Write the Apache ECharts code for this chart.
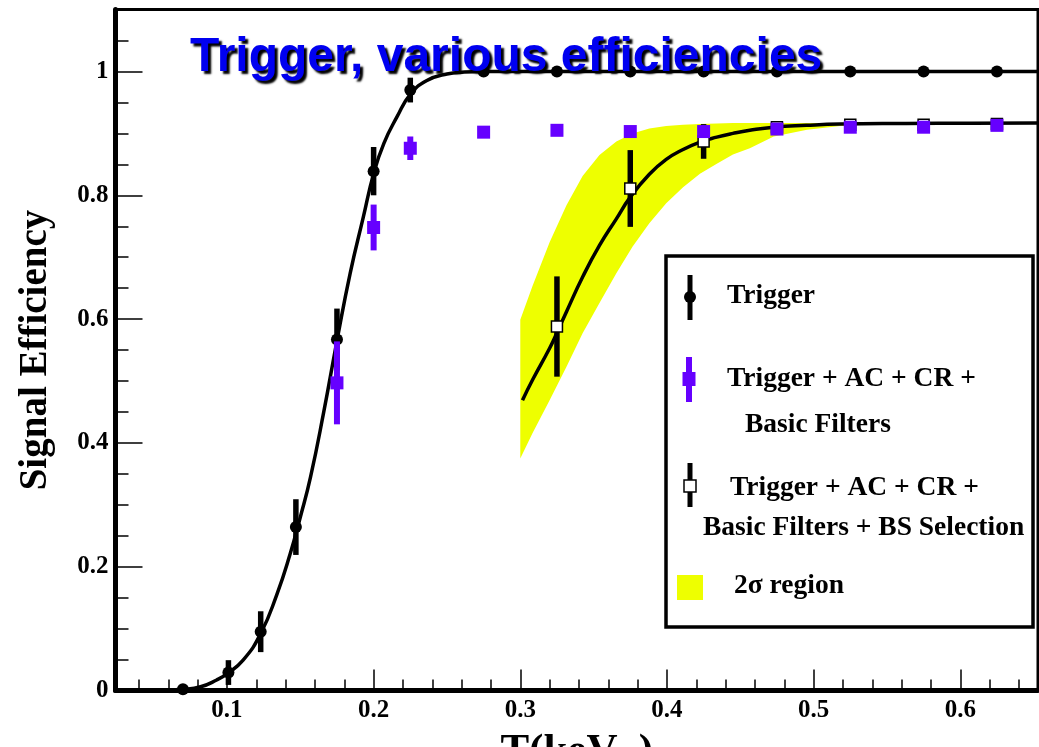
<!DOCTYPE html>
<html><head><meta charset="utf-8">
<script src="https://cdn.jsdelivr.net/npm/echarts@6/dist/echarts.min.js"></script>
<style>html,body{margin:0;padding:0;background:#fff}#c{width:1039px;height:747px}</style>
</head><body><div id="c"></div>
<script>
// ---- tick labels ----
const xTicks = [0.1, 0.2, 0.3, 0.4, 0.5, 0.6];
const yTicks = [0, 0.2, 0.4, 0.6, 0.8, 1];

// ---- Trigger (black circles) ----
const trigX   = [0.07, 0.101, 0.123, 0.147, 0.175, 0.2, 0.225, 0.275, 0.325, 0.375, 0.425, 0.475, 0.525, 0.575, 0.625];
const trigY   = [0.002, 0.029, 0.095, 0.264, 0.567, 0.839, 0.970, 1, 1, 1, 1, 1, 1, 1, 1];
const trigErr = [0, 0.02, 0.033, 0.045, 0.05, 0.039, 0.02, 0, 0, 0, 0, 0, 0, 0, 0];

// ---- Trigger + AC + CR + Basic Filters (purple squares) ----
const purX   = [0.175, 0.2, 0.225, 0.275, 0.325, 0.375, 0.425, 0.475, 0.525, 0.575, 0.625];
const purY   = [0.497, 0.748, 0.876, 0.902, 0.905, 0.903, 0.903, 0.907, 0.910, 0.910, 0.913];
const purErr = [0.067, 0.037, 0.019, 0, 0, 0, 0, 0, 0, 0, 0];

// ---- + BS Selection (open squares) ----
const bsX   = [0.325, 0.375, 0.425, 0.475, 0.525, 0.575, 0.625];
const bsY   = [0.588, 0.811, 0.887, 0.910, 0.914, 0.914, 0.915];
const bsErr = [0.081, 0.062, 0.028, 0.005, 0, 0, 0];

// ---- fit curves ----
const trigFitX = [0.05, 0.07, 0.082, 0.093, 0.1, 0.111, 0.123, 0.134, 0.143, 0.15, 0.157, 0.166, 0.175, 0.184, 0.193, 0.2, 0.207, 0.216, 0.225, 0.236, 0.25, 0.262, 0.275, 0.3, 0.35, 0.45, 0.55, 0.653];
const trigFitY = [0, 0.002, 0.006, 0.017, 0.027, 0.049, 0.092, 0.155, 0.22, 0.28, 0.345, 0.45, 0.565, 0.674, 0.765, 0.835, 0.884, 0.927, 0.963, 0.985, 0.996, 0.999, 1, 1, 1, 1, 1, 1];

const bsFitX = [0.3015, 0.3084, 0.32, 0.325, 0.3315, 0.3425, 0.354, 0.3655, 0.375, 0.388, 0.3995, 0.411, 0.4225, 0.434, 0.445, 0.4565, 0.4728, 0.495, 0.518, 0.563, 0.608, 0.653];
const bsFitY = [0.469, 0.502, 0.553, 0.578, 0.612, 0.668, 0.719, 0.762, 0.797, 0.834, 0.858, 0.874, 0.886, 0.894, 0.900, 0.905, 0.910, 0.913, 0.915, 0.916, 0.9165, 0.917];

// ---- 2 sigma band ----
const bandX    = [0.3, 0.3084, 0.32, 0.3315, 0.3425, 0.354, 0.3655, 0.3765, 0.388, 0.3995, 0.411, 0.4225, 0.434, 0.445, 0.4565, 0.4728, 0.4955, 0.518, 0.53, 0.55];
const bandHigh = [0.599, 0.654, 0.724, 0.784, 0.831, 0.865, 0.887, 0.900, 0.908, 0.912, 0.914, 0.915, 0.916, 0.917, 0.917, 0.917, 0.917, 0.917, 0.917, 0.917];
const bandLow  = [0.375, 0.416, 0.469, 0.523, 0.577, 0.626, 0.674, 0.717, 0.755, 0.787, 0.813, 0.835, 0.851, 0.866, 0.876, 0.895, 0.906, 0.912, 0.915, 0.917];

const legendLabels = ['Trigger', 'Trigger + AC + CR +', 'Basic Filters', 'Trigger + AC + CR +', 'Basic Filters + BS Selection', '2\u03c3 region'];

const X_MIN = 0.024, X_MAX = 0.653, Y_MIN = 0, Y_MAX = 1.1;

function minorBetween(ticks, n, lo, hi) {
  const out = [];
  const step = (ticks[1] - ticks[0]) / n;
  for (let v = ticks[0] - 10 * step; v <= hi + 1e-9; v += step) {
    const r = Math.round(v * 1000) / 1000;
    if (r > lo + 1e-9 && r < hi - 1e-9) out.push(r);
  }
  return out;
}
const xMinor = minorBetween(xTicks, 5, X_MIN, X_MAX);
const yMinor = minorBetween(yTicks, 4, Y_MIN, Y_MAX);

const PURPLE = '#6600ff', YELLOW = '#eeff00';
const SERIF = 'Liberation Serif';
const lbl = { fontFamily: SERIF, fontWeight: 'bold', fontSize: 25, color: '#000' };
const tickLine = { color: '#000', width: 1.5 };

function pairs(xs, ys) { return xs.map((x, i) => [x, ys[i]]); }

function errSeries(xs, ys, es, color, width, z) {
  return {
    type: 'custom', z, silent: true,
    data: xs.map((x, i) => [x, ys[i], es[i]]),
    encode: { x: 0, y: 1 },
    renderItem(params, api) {
      const x = api.value(0), y = api.value(1), e = api.value(2);
      if (!e) return { type: 'group', children: [] };
      const p1 = api.coord([x, y - e]), p2 = api.coord([x, y + e]);
      return { type: 'line', shape: { x1: p1[0], y1: p1[1], x2: p2[0], y2: p2[1] },
               style: { stroke: color, lineWidth: width, opacity: 1 } };
    }
  };
}

const chart = echarts.init(document.getElementById('c'), null, { renderer: 'canvas' });
const legFont = { fontFamily: SERIF, fontWeight: 'bold', fontSize: 27.5, fill: '#000', verticalAlign: 'middle', align: 'left' };

chart.setOption({
  animation: false,
  backgroundColor: '#fff',
  title: {
    text: 'Trigger, various efficiencies', left: 190, top: 34, padding: 0,
    textStyle: { fontFamily: 'Liberation Sans', fontWeight: 'bold', fontSize: 48, color: '#0000f0',
      textShadowColor: '#000', textShadowOffsetX: 3, textShadowOffsetY: 3, textShadowBlur: 2 }
  },
  grid: { left: 115.5, right: 1, top: 9.6, bottom: 56.5, containLabel: false, outerBoundsMode: 'none',
          show: true, borderColor: '#000', borderWidth: 3, backgroundColor: 'transparent' },
  xAxis: [
    { type: 'value', min: X_MIN, max: X_MAX, position: 'bottom',
      axisLine: { show: true, onZero: false, lineStyle: { color: '#000', width: 5 } },
      axisTick: { show: true, inside: true, length: 21, lineStyle: tickLine, customValues: xTicks },
      axisLabel: Object.assign({ show: true, margin: 8, customValues: xTicks }, lbl),
      splitLine: { show: false },
      name: 'T(keV{s|ee})', nameLocation: 'middle', nameGap: 40, nameMoveOverlap: false,
      nameTextStyle: { fontFamily: SERIF, fontWeight: 'bold', fontSize: 43, color: '#000',
        rich: { s: { fontFamily: SERIF, fontWeight: 'bold', fontSize: 24, verticalAlign: 'bottom', color: '#000' } } } },
    { type: 'value', min: X_MIN, max: X_MAX, position: 'bottom',
      axisLine: { show: false, onZero: false },
      axisTick: { show: true, inside: true, length: 11, lineStyle: tickLine, customValues: xMinor },
      axisLabel: { show: false }, splitLine: { show: false } }
  ],
  yAxis: [
    { type: 'value', min: Y_MIN, max: Y_MAX, position: 'left',
      axisLine: { show: true, onZero: false, lineStyle: { color: '#000', width: 5 } },
      axisTick: { show: true, inside: true, length: 27, lineStyle: tickLine, customValues: yTicks },
      axisLabel: Object.assign({ show: true, margin: 7, customValues: yTicks }, lbl),
      splitLine: { show: false },
      name: 'Signal Efficiency', nameLocation: 'middle', nameGap: 60, nameMoveOverlap: false,
      nameTextStyle: { fontFamily: SERIF, fontWeight: 'bold', fontSize: 39, color: '#000' } },
    { type: 'value', min: Y_MIN, max: Y_MAX, position: 'left',
      axisLine: { show: false, onZero: false },
      axisTick: { show: true, inside: true, length: 13, lineStyle: tickLine, customValues: yMinor },
      axisLabel: { show: false }, splitLine: { show: false } }
  ],
  series: [
    { type: 'custom', z: 1, silent: true,
      data: bandX.map((x, i) => [x, bandLow[i], bandHigh[i]]),
      encode: { x: 0, y: [1, 2] },
      renderItem(params, api) {
        if (params.dataIndex !== 0) return { type: 'group', children: [] };
        const pts = [];
        for (let i = 0; i < bandX.length; i++) pts.push(api.coord([bandX[i], bandHigh[i]]));
        for (let i = bandX.length - 1; i >= 0; i--) pts.push(api.coord([bandX[i], bandLow[i]]));
        return { type: 'polygon', shape: { points: pts }, style: { fill: YELLOW, opacity: 1 } };
      } },
    { type: 'line', z: 2, data: pairs(trigFitX, trigFitY), symbol: 'none', smooth: 0.5,
      lineStyle: { color: '#000', width: 3.5, opacity: 1 }, silent: true },
    { type: 'line', z: 2, data: pairs(bsFitX, bsFitY), symbol: 'none', smooth: 0.5,
      lineStyle: { color: '#000', width: 3.5, opacity: 1 }, silent: true },
    errSeries(trigX, trigY, trigErr, '#000', 5.5, 3),
    errSeries(bsX, bsY, bsErr, '#000', 5.5, 3),
    { type: 'scatter', z: 4, data: pairs(trigX, trigY), symbol: 'circle', symbolSize: 12,
      itemStyle: { color: '#000', opacity: 1 }, silent: true },
    { type: 'scatter', z: 4, data: pairs(bsX, bsY), symbol: 'rect', symbolSize: 11,
      itemStyle: { color: '#fff', borderColor: '#000', borderWidth: 1.5, opacity: 1 }, silent: true },
    errSeries(purX, purY, purErr, PURPLE, 6, 5),
    { type: 'scatter', z: 5, data: pairs(purX, purY), symbol: 'rect', symbolSize: 13,
      itemStyle: { color: PURPLE, opacity: 1 }, silent: true }
  ],
  graphic: [
    { type: 'rect', z: 100, shape: { x: 666, y: 256, width: 367, height: 371 }, style: { fill: '#fff', stroke: '#000', lineWidth: 3.5 } },
    { type: 'line', z: 101, shape: { x1: 690, y1: 275, x2: 690, y2: 320 }, style: { stroke: '#000', lineWidth: 5 } },
    { type: 'circle', z: 101, shape: { cx: 690, cy: 297, r: 6 }, style: { fill: '#000' } },
    { type: 'text', z: 101, x: 727, y: 296, style: Object.assign({ text: legendLabels[0] }, legFont) },
    { type: 'line', z: 101, shape: { x1: 689, y1: 357, x2: 689, y2: 402 }, style: { stroke: PURPLE, lineWidth: 6 } },
    { type: 'rect', z: 101, shape: { x: 682.5, y: 372, width: 13, height: 14 }, style: { fill: PURPLE } },
    { type: 'text', z: 101, x: 727, y: 379, style: Object.assign({ text: legendLabels[1] }, legFont) },
    { type: 'text', z: 101, x: 745, y: 425, style: Object.assign({ text: legendLabels[2] }, legFont) },
    { type: 'line', z: 101, shape: { x1: 690, y1: 463, x2: 690, y2: 507 }, style: { stroke: '#000', lineWidth: 5 } },
    { type: 'rect', z: 102, shape: { x: 684, y: 480, width: 12, height: 12 }, style: { fill: '#fff', stroke: '#000', lineWidth: 1.5 } },
    { type: 'text', z: 101, x: 730, y: 488, style: Object.assign({ text: legendLabels[3] }, legFont) },
    { type: 'text', z: 101, x: 703, y: 528, style: Object.assign({ text: legendLabels[4] }, legFont) },
    { type: 'rect', z: 101, shape: { x: 677, y: 575, width: 26, height: 25 }, style: { fill: YELLOW } },
    { type: 'text', z: 101, x: 734, y: 586, style: Object.assign({ text: legendLabels[5] }, legFont) }
  ]
});
</script>
</body></html>
